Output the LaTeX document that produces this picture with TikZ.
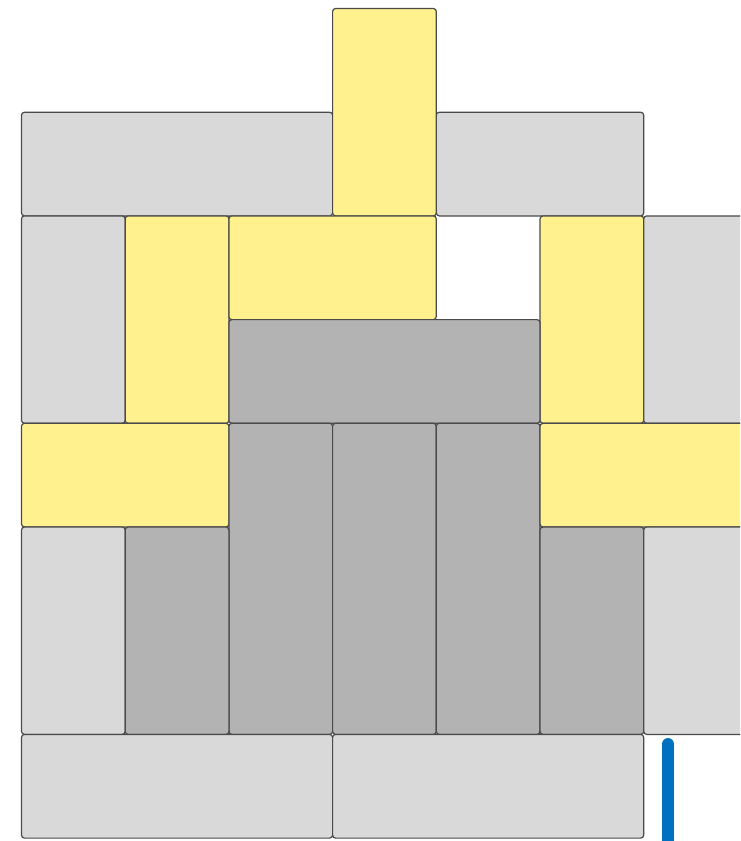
\documentclass[tikz,border=0pt]{standalone}
\definecolor{lgray}{HTML}{D9D9D9}
\definecolor{dgray}{HTML}{B3B3B3}
\definecolor{yel}{HTML}{FFF28E}
\definecolor{edge}{HTML}{4A4A4A}
\definecolor{blu}{HTML}{0070C0}
\tikzset{
  blk/.style={draw=edge, line width=1.2pt, rounded corners=3pt},
  lg/.style={blk, fill=lgray},
  dg/.style={blk, fill=dgray},
  yl/.style={blk, fill=yel},
}
\newcommand{\blkat}[5]{% style, col, row, w, h
  \path[#1] ({21.5+103.7*#2},{8.5+103.7*#3}) rectangle ({21.5+103.7*(#2+#4)},{8.5+103.7*(#3+#5)});}
\begin{document}
\begin{tikzpicture}[x=1pt,y=-1pt]
\useasboundingbox (0,0) rectangle (740,841);
\clip (0,0) rectangle (740,841);
% row 1
\blkat{lg}{0}{1}{3}{1}
\blkat{lg}{4}{1}{2}{1}
\blkat{yl}{3}{0}{1}{2}
% rows 2-3
\blkat{lg}{0}{2}{1}{2}
\blkat{yl}{1}{2}{1}{2}
\blkat{yl}{2}{2}{2}{1}
\blkat{yl}{5}{2}{1}{2}
\blkat{lg}{6}{2}{1}{2}
\blkat{dg}{2}{3}{3}{1}
% row 4
\blkat{yl}{0}{4}{2}{1}
\blkat{dg}{2}{4}{1}{3}
\blkat{dg}{3}{4}{1}{3}
\blkat{dg}{4}{4}{1}{3}
\blkat{yl}{5}{4}{2}{1}
% rows 5-6
\blkat{lg}{0}{5}{1}{2}
\blkat{dg}{1}{5}{1}{2}
\blkat{dg}{5}{5}{1}{2}
\blkat{lg}{6}{5}{1}{2}
% row 7
\blkat{lg}{0}{7}{3}{1}
\blkat{lg}{3}{7}{3}{1}
% blue bar
\coordinate (bt) at (668,744);
\coordinate (bb) at (668,850);
\draw[blu, line width=12pt, line cap=round] (bt) -- (bb);
\end{tikzpicture}
\end{document}
